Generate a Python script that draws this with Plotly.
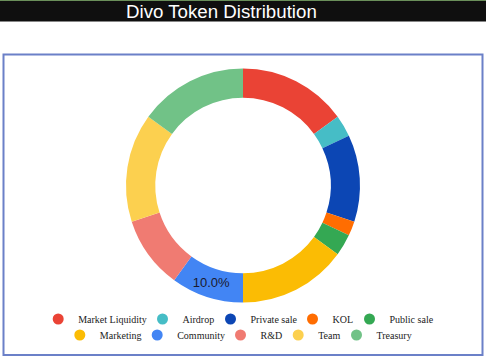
import plotly.graph_objects as go

labels = ["Market Liquidity", "Airdrop", "Private sale", "KOL", "Public sale",
          "Marketing", "Community", "R&D", "Team", "Treasury"]
values = [15, 3, 12, 2, 3, 15, 10, 10, 15, 15]
colors = ["#EA4335", "#46BDC6", "#0C46B4", "#FF6D01", "#34A853",
          "#FBBC04", "#4285F4", "#F07B72", "#FCD04F", "#71C287"]
shown_labels = ["Community"]

W, H = 486, 357

# legend entry placement (pixel x of the marker centre, pixel y of the row)
legend_x = [61.7, 166, 234, 316, 373, 83.3, 160.7, 244, 301.7, 360]
legend_y = [319] * 5 + [335] * 5
SYMBOL_OFFSET = 20

texttemplate = ["%{percent:.1%}" if l in shown_labels else "" for l in labels]

fig = go.Figure()
fig.add_trace(go.Pie(
    labels=labels, values=values, sort=False, direction="clockwise", rotation=0,
    hole=0.75, marker=dict(colors=colors, line=dict(width=0)),
    texttemplate=texttemplate, textposition="inside", insidetextorientation="horizontal",
    textfont=dict(family="Liberation Sans, Arial", size=13, color="#1a1a2e"),
    showlegend=False,
    domain=dict(x=[126 / W, 360 / W], y=[(H - 302.5) / H, (H - 68.5) / H]),
    hoverinfo="label+percent",
))

legend_layout = {}
for i, (lab, col) in enumerate(zip(labels, colors)):
    key = "legend" if i == 0 else f"legend{i + 1}"
    fig.add_trace(go.Scatter(
        x=[None], y=[None], mode="markers", name=lab,
        marker=dict(symbol="circle", size=11, color=col),
        legend=key, hoverinfo="skip",
    ))
    legend_layout[key] = dict(
        orientation="h", xanchor="left", x=(legend_x[i] - 3.5 - SYMBOL_OFFSET) / W,
        yanchor="middle", y=(H - legend_y[i]) / H,
        font=dict(family="Liberation Serif, Times New Roman", size=10, color="#222222"),
        bgcolor="rgba(0,0,0,0)", borderwidth=0, itemclick=False,
    )

fig.update_layout(
    width=W, height=H, margin=dict(l=0, r=0, t=0, b=0),
    paper_bgcolor="white", plot_bgcolor="white",
    xaxis=dict(visible=False), yaxis=dict(visible=False),
    uniformtext=dict(minsize=13, mode="show"),
    shapes=[
        dict(type="rect", xref="paper", yref="paper", x0=0, x1=1,
             y0=(H - 21.5) / H, y1=1, fillcolor="#0f0f0f", line=dict(width=0), layer="below"),
        dict(type="rect", xref="paper", yref="paper", x0=0, x1=1,
             y0=(H - 1) / H, y1=1, fillcolor="#6a8f5a", line=dict(width=0), layer="below"),
        dict(type="rect", xref="paper", yref="paper", x0=3.5 / W, x1=482.5 / W,
             y0=(H - 355) / H, y1=(H - 54.5) / H, fillcolor="rgba(0,0,0,0)",
             line=dict(color="#6b80c8", width=2), layer="below"),
    ],
    annotations=[
        dict(text="Divo Token Distribution", xref="paper", yref="paper",
             x=221 / W, y=(H - 12) / H, xanchor="center", yanchor="middle",
             showarrow=False, font=dict(family="Liberation Sans, Arial", size=18.7, color="white")),
    ],
    **legend_layout,
)

fig.write_html("out.html", config={"displayModeBar": False},
               post_script="document.body.style.margin='0';")
